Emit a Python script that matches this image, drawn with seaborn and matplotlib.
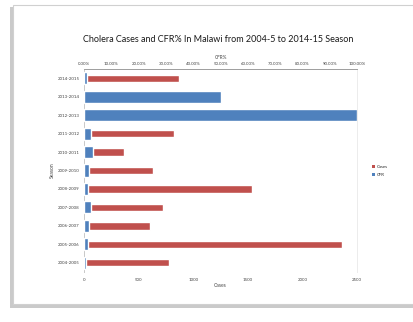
import matplotlib
matplotlib.use("Agg")
import matplotlib.pyplot as plt
from matplotlib.patches import Rectangle, Patch
import seaborn as sns
import pandas as pd

# Seasons listed top to bottom
seasons = ["2014-2015", "2013-2014", "2012-2013", "2011-2012", "2010-2011",
           "2009-2010", "2008-2009", "2007-2008", "2006-2007", "2005-2006",
           "2004-2005"]
cases = [873, 0, 0, 821, 368, 634, 1535, 720, 600, 2359, 781]
cfr_pct = [1.0, 50.0, 100.0, 2.5, 3.3, 2.0, 1.6, 2.5, 2.0, 1.4, 0.6]

cases_ticks = [0, 500, 1000, 1500, 2000, 2500]
cfr_ticks = [0, 10, 20, 30, 40, 50, 60, 70, 80, 90, 100]

RED = "#C0504D"
BLUE = "#4F81BD"

df = pd.DataFrame({"Season": seasons, "Cases": cases, "CFR": cfr_pct})

sns.set_theme(style="white")
plt.rcParams["font.family"] = ["Lato", "DejaVu Sans"]

W, H = 414, 322
fig = plt.figure(figsize=(W / 100, H / 100), dpi=100)
fig.patch.set_facecolor("white")

# card with a soft drop shadow, kept behind the axes
shadow = Rectangle((10 / W, (H - 308) / H), (W - 8) / W, (308 - 7) / H,
                   transform=fig.transFigure, facecolor="#a8a8a8",
                   edgecolor="none", alpha=0.6, zorder=-3)
card = Rectangle((13 / W, (H - 304) / H), (W - 10) / W, (304 - 5) / H,
                 transform=fig.transFigure, facecolor="white",
                 edgecolor="#d0d0d0", linewidth=0.8, zorder=-2)
fig.patches.extend([shadow, card])

ax = fig.add_axes([84 / W, (H - 272) / H, (357 - 84) / W, (272 - 69) / H])
ax.set_facecolor("none")

sns.barplot(data=df, y="Season", x="Cases", order=seasons, orient="h",
            color=RED, width=0.4, saturation=1, ax=ax, zorder=2)
ax.set_xlim(0, 2500)
ax.set_xticks(cases_ticks)
ax.set_xticklabels([str(t) for t in cases_ticks], fontsize=3.2, color="#444444")
ax.set_xlabel("Cases", fontsize=3.6, color="#444444", labelpad=1)
ax.set_ylabel("Season", fontsize=3.6, color="#444444", labelpad=2)
ax.tick_params(axis="y", labelsize=3.2, labelcolor="#444444", length=0, pad=3)
ax.tick_params(axis="x", length=0, pad=4)

ax2 = ax.twiny()
ax2.set_facecolor("none")
sns.barplot(data=df, y="Season", x="CFR", order=seasons, orient="h",
            color=BLUE, width=0.66, saturation=1, ax=ax2, zorder=3)
ax2.set_xlim(0, 100)
ax2.set_xticks(cfr_ticks)
ax2.set_xticklabels([f"{t:.2f}%" for t in cfr_ticks], fontsize=3.2,
                    color="#444444")
ax2.set_xlabel("CFR%", fontsize=3.4, color="#444444", labelpad=2)
ax2.tick_params(axis="x", length=0, pad=2)
ax2.set_ylabel("")

for a in (ax, ax2):
    a.spines["bottom"].set_visible(False)
    a.spines["left"].set_color("#c8c8c8")
    a.spines["left"].set_linewidth(0.6)
    a.spines["right"].set_color("#ececec")
    a.spines["right"].set_linewidth(0.6)
    a.spines["top"].set_color("#a0a0a0")
    a.spines["top"].set_linewidth(0.7)

fig.text(218 / W, 1 - 40 / H,
         "Cholera Cases and CFR% In Malawi from 2004-5 to 2014-15 Season",
         ha="center", va="center", fontsize=6.5, color="#1a1a1a")

handles = [Patch(facecolor=RED, edgecolor="none", label="Cases"),
           Patch(facecolor=BLUE, edgecolor="none", label="CFR")]
fig.legend(handles=handles, loc="center left",
           bbox_to_anchor=(368 / W, 1 - 171 / H), frameon=False,
           fontsize=3.2, handlelength=0.7, handleheight=0.7,
           handletextpad=0.4, labelspacing=0.9)

fig.savefig("out.png", dpi=100)
